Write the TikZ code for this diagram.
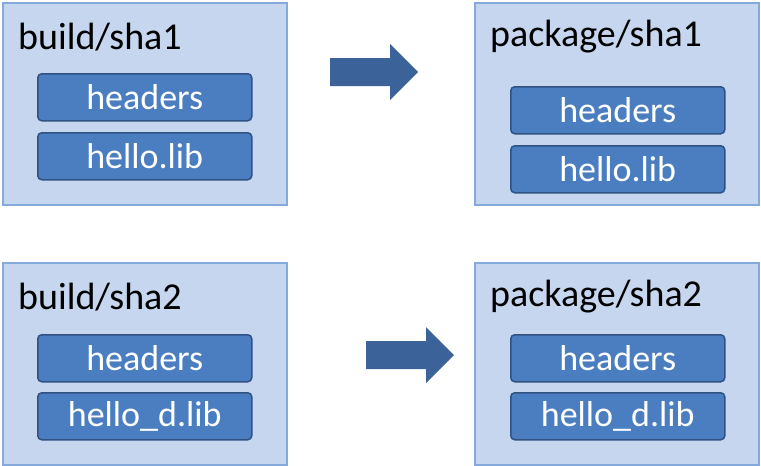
\documentclass[tikz,border=0pt]{standalone}
\usepackage{fontspec}
\setmainfont{Carlito}
\usetikzlibrary{positioning}
\definecolor{outerfill}{HTML}{C6D6EF}
\definecolor{outerline}{HTML}{85A9DA}
\definecolor{innerfill}{HTML}{4A7EC0}
\definecolor{innerline}{HTML}{2F5282}
\definecolor{arrowfill}{HTML}{3B6399}
\tikzset{
  folder/.style={draw=outerline,line width=1.5pt,fill=outerfill,anchor=north west,
    minimum width=284pt,minimum height=202pt,inner sep=0pt},
  file/.style={draw=innerline,line width=1.5pt,fill=innerfill,rounded corners=4pt,
    text=white,font=\fontsize{36}{40}\selectfont,minimum width=214pt,minimum height=47pt,
    inner sep=0pt,anchor=north west},
  title/.style={anchor=west,font=\fontsize{38}{42}\selectfont,inner sep=0pt},
  blockarrow/.style={fill=arrowfill}
}
\newcommand{\stepArrow}[1]{%
  \fill[blockarrow] (#1) ++(0,-14) -- ++(60,0) -- ++(0,-14) -- ++(28,28)
    -- ++(-28,28) -- ++(0,-14) -- ++(-60,0) -- cycle;}
\begin{document}
\begin{tikzpicture}[x=1pt,y=-1pt]
  \useasboundingbox (0,0) rectangle (761,466);
  % build/sha1
  \node[folder] (b1) at (2,2) {};
  \node[title] (b1t) at (18,37) {build/sha1};
  \node[file] (b1h) at (37,73) {headers};
  \node[file] (b1l) at (37,132) {hello.lib};
  % package/sha1
  \node[folder] (p1) at (474,2) {};
  \node[title] (p1t) at (490,37) {package/sha1};
  \node[file] (p1h) at (510,86) {headers};
  \node[file] (p1l) at (510,145) {hello.lib};
  % build/sha2
  \node[folder] (b2) at (2,262) {};
  \node[title] (b2t) at (18,297) {build/sha2};
  \node[file] (b2h) at (37,334) {headers};
  \node[file] (b2l) at (37,392) {hello\_d.lib};
  % package/sha2
  \node[folder] (p2) at (474,262) {};
  \node[title] (p2t) at (490,297) {package/sha2};
  \node[file] (p2h) at (510,334) {headers};
  \node[file] (p2l) at (510,392) {hello\_d.lib};
  % arrows
  \coordinate (a1) at (330,72);
  \coordinate (a2) at (366,355);
  \stepArrow{a1}
  \stepArrow{a2}
\end{tikzpicture}
\end{document}
